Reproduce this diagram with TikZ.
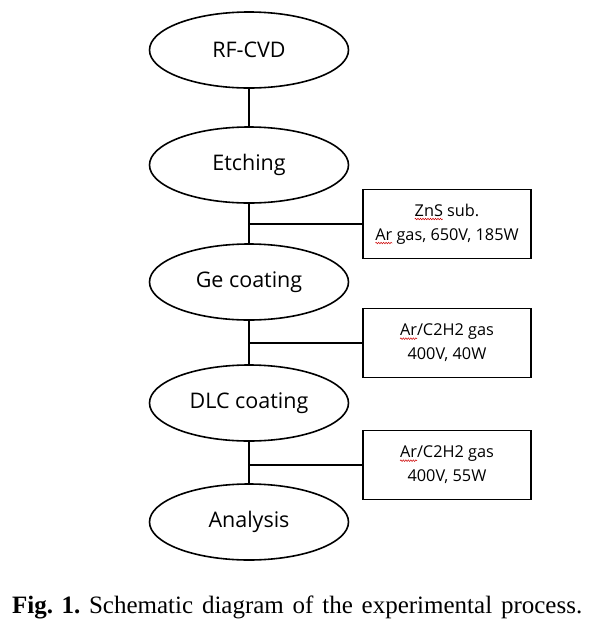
\documentclass[tikz,border=0pt]{standalone}
\usepackage{fontspec}
\setmainfont{Liberation Serif}
\newfontfamily\flowfont{Open Sans}
\usetikzlibrary{positioning, shapes.geometric, decorations.pathmorphing}
\newcommand{\spellmark}[1]{\setbox0\hbox{#1}\rlap{\tikz[overlay, baseline=0pt]{\draw[red!80!black, line width=0.5pt, decorate, decoration={snake, amplitude=0.8pt, segment length=2.5pt}] (0pt,-2.8pt) -- (\wd0,-2.8pt);}}#1}
\tikzstyle{stage} = [
    ellipse,
    draw,
    line width = 1.6pt,
    text centered,
    minimum width = 199pt,
    minimum height = 76pt,
    font = \flowfont\fontsize{21.5}{25}\selectfont
]
\tikzstyle{cond} = [
    rectangle,
    draw,
    line width = 1.6pt,
    align = center,
    minimum width = 168pt,
    minimum height = 69pt,
    font = \flowfont\fontsize{16.3}{24}\selectfont
]
\tikzstyle{link} = [draw, line width = 1.6pt]

\begin{document}
\begin{tikzpicture}[x=1pt, y=-1pt]
                \useasboundingbox (0,0) rectangle (601,622);
                % process steps
                \node[stage] (rfcvd) at (249,50) {RF-CVD};
                \node[stage] (etching) at (249,165) {Etching};
                \node[stage] (gecoat) at (249,282) {Ge coating};
                \node[stage] (dlccoat) at (249,403) {DLC coating};
                \node[stage] (analysis) at (249,522) {Analysis};
                % conditions
                \node[cond] (zns) at (447,224) {\spellmark{ZnS} sub.\\\spellmark{Ar} gas, 650V, 185W};
                \node[cond] (gasge) at (447,343) {\spellmark{Ar}/C2H2 gas\\400V, 40W};
                \node[cond] (gasdlc) at (447,465) {\spellmark{Ar}/C2H2 gas\\400V, 55W};
                \draw[link] (rfcvd) -- (etching);
                \draw[link] (etching) -- (gecoat);
                \draw[link] (gecoat) -- (dlccoat);
                \draw[link] (dlccoat) -- (analysis);
                \draw[link] (zns.west) -- (zns.west -| etching.south);
                \draw[link] (gasge.west) -- (gasge.west -| gecoat.south);
                \draw[link] (gasdlc.west) -- (gasdlc.west -| dlccoat.south);
                % caption
                \node[anchor=base west, inner sep=0pt, text width=570pt,
                      font=\fontsize{25}{29}\selectfont] (caption) at (12,613)
                    {\textbf{Fig.~1.}\hfill Schematic\hfill diagram\hfill of\hfill the\hfill experimental\hfill process.};
            \end{tikzpicture}
\end{document}
